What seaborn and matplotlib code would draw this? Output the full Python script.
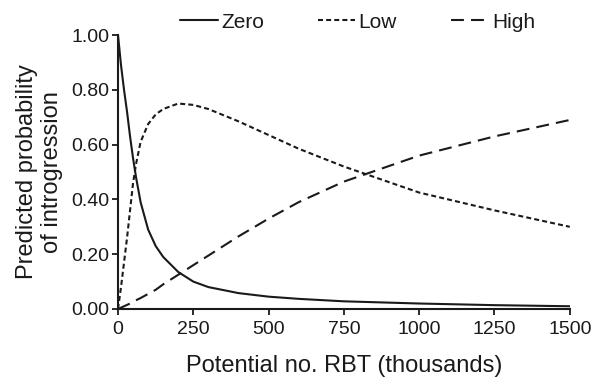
import matplotlib
matplotlib.use("Agg")
import matplotlib.pyplot as plt
import seaborn as sns
import pandas as pd

x_vals = [0, 10, 20, 30, 40, 50, 60, 75, 100, 125, 150, 200, 250, 300, 400, 500, 600, 750, 1000, 1250, 1500]
zero_vals = [1.0, 0.89, 0.80, 0.72, 0.63, 0.55, 0.48, 0.39, 0.29, 0.23, 0.19, 0.135, 0.10, 0.08, 0.058, 0.045, 0.037, 0.028, 0.02, 0.014, 0.01]
low_vals = [0.0, 0.08, 0.17, 0.26, 0.36, 0.46, 0.53, 0.61, 0.675, 0.71, 0.73, 0.75, 0.745, 0.73, 0.685, 0.635, 0.585, 0.52, 0.425, 0.36, 0.30]
high_vals = [0.0, 0.005, 0.01, 0.015, 0.02, 0.027, 0.032, 0.04, 0.055, 0.07, 0.09, 0.125, 0.16, 0.195, 0.265, 0.33, 0.39, 0.465, 0.56, 0.63, 0.69]
series_names = ["Zero", "Low", "High"]
x_ticks = [0, 250, 500, 750, 1000, 1250, 1500]
y_ticks = [0.0, 0.2, 0.4, 0.6, 0.8, 1.0]

sns.set_theme(style="ticks")
plt.rcParams["font.family"] = ["Liberation Sans", "DejaVu Sans"]

df = pd.DataFrame({
    "x": x_vals * 3,
    "y": zero_vals + low_vals + high_vals,
    "series": [series_names[0]] * len(x_vals) + [series_names[1]] * len(x_vals) + [series_names[2]] * len(x_vals),
})

fig = plt.figure(figsize=(5.96, 3.81), dpi=100)
ax = fig.add_axes([0.198, 0.189, 0.758, 0.719])

sns.lineplot(data=df, x="x", y="y", style="series", style_order=series_names,
             dashes={"Zero": "", "Low": (2.4, 1.5), "High": (6.2, 3.4)},
             color="#1a1a1a", linewidth=1.5, ax=ax, legend=True)

ax.set_xlim(0, 1500)
ax.set_ylim(0, 1.0)
ax.set_xticks(x_ticks)
ax.set_xticklabels([str(t) for t in x_ticks])
ax.set_yticks(y_ticks)
ax.set_yticklabels([f"{t:.2f}" for t in y_ticks])
ax.tick_params(axis="both", labelsize=14, length=4, width=1.3, color="#1a1a1a", labelcolor="#1a1a1a")
ax.tick_params(axis="x", pad=5)
ax.tick_params(axis="y", pad=2)
for s in ["top", "right"]:
    ax.spines[s].set_visible(False)
for s in ["left", "bottom"]:
    ax.spines[s].set_linewidth(1.5)
    ax.spines[s].set_color("#1a1a1a")

ax.set_xlabel("Potential no. RBT (thousands)", fontsize=17, color="#1a1a1a", labelpad=12)
ax.set_ylabel("Predicted probability\nof introgression", fontsize=17, color="#1a1a1a", labelpad=6, linespacing=1.2)

handles, labels = ax.get_legend_handles_labels()
ax.get_legend().remove()
fig.legend(handles, labels, loc="center", bbox_to_anchor=(0.600, 0.942), ncol=3, frameon=False,
           fontsize=15, handlelength=1.8, handletextpad=0.15, columnspacing=2.6,
           labelcolor="#1a1a1a")

fig.savefig("out.png", dpi=100)
